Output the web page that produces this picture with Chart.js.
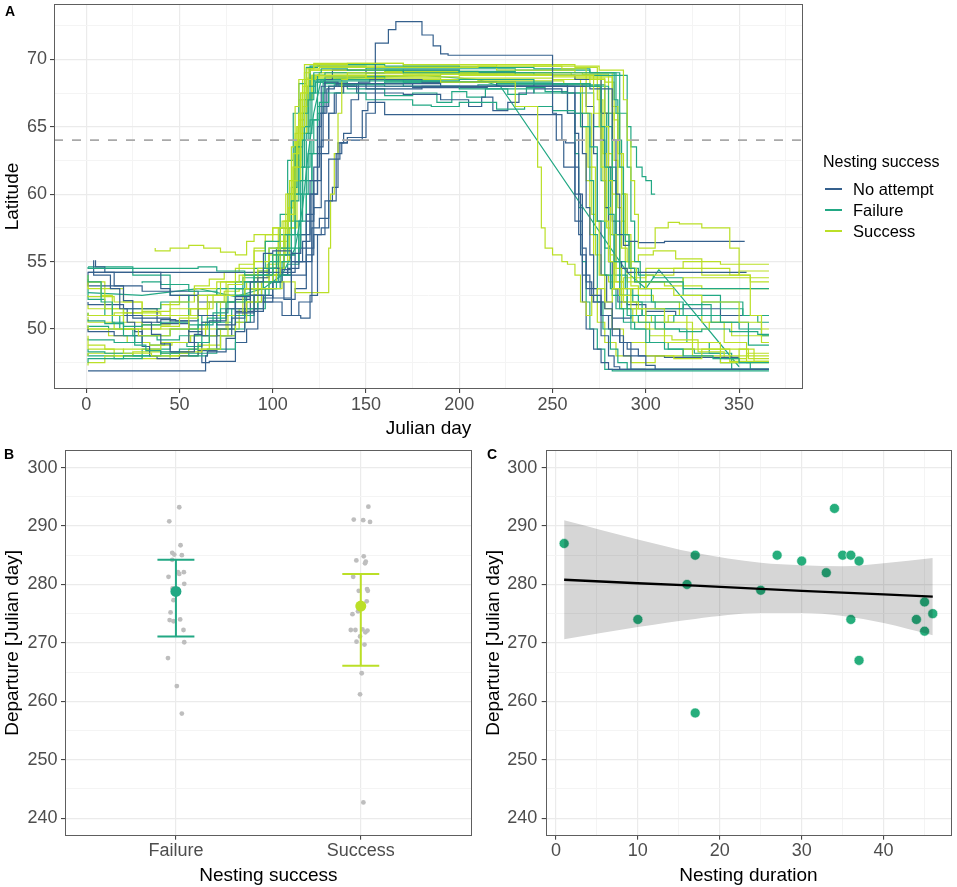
<!DOCTYPE html>
<html>
<head>
<meta charset="utf-8">
<script src="https://cdn.jsdelivr.net/npm/chart.js@4.4.1/dist/chart.umd.min.js"></script>
<style>
  body { margin: 0; background: #fff; }
  #wrap { position: relative; width: 957px; height: 887px; font-family: "Liberation Sans", Arial, sans-serif; }
  canvas { position: absolute; }
  .tag { position: absolute; font-weight: bold; font-size: 14px; line-height: 15px; color: #000; }
  .leg { position: absolute; font-size: 16.5px; line-height: 19px; color: #000; white-space: nowrap; }
  .key { position: absolute; width: 17px; height: 2px; }
</style>
</head>
<body>
<div id="wrap">
  <canvas id="chartA" width="957" height="440" style="left:0;top:0"></canvas>
  <canvas id="chartB" width="480" height="447" style="left:0;top:440px"></canvas>
  <canvas id="chartC" width="477" height="447" style="left:480px;top:440px"></canvas>
  <div class="tag" style="left:5px;top:4px">A</div>
  <div class="tag" style="left:4px;top:447px">B</div>
  <div class="tag" style="left:487px;top:447px">C</div>
  <div id="legend"></div>
</div>
<script>
// ---- data ----
const groupNames = ['No attempt', 'Failure', 'Success'];
const groupColors = ['#35608D', '#22A884', '#BBDF27'];
const thresholdLat = 64;

// tick values
const dayTicks = [0, 25, 50, 75, 100, 125, 150, 175, 200, 225, 250, 275, 300, 325, 350, 375];
const dayMajor = [0, 50, 100, 150, 200, 250, 300, 350];
const latTicks = [47.5, 50, 52.5, 55, 57.5, 60, 62.5, 65, 67.5, 70, 72.5];
const latMajor = [50, 55, 60, 65, 70];
const depTicks = [240, 245, 250, 255, 260, 265, 270, 275, 280, 285, 290, 295, 300];
const depMajor = [240, 250, 260, 270, 280, 290, 300];
const durTicks = [0, 5, 10, 15, 20, 25, 30, 35, 40, 45];
const durMajor = [0, 10, 20, 30, 40];

// panel A: tracks [julian day, latitude]
const na1 = [[5,55.1],[10,54.6],[15,54.2],[20,53.2],[25,52.1],[30,51.0],[35,50.5],[40,49.6],[45,48.9],[50,48.3],[58,48.3],[62,49.6],[66,50.5],[75,50.6],[80,51.5],[88,52.4],[95,53.5],[100,55.6],[110,55.8],[114,51.0],[121,52.0],[125,57.5],[130,58.2],[136,62.6],[140,63.8],[150,64.2],[155,66.0],[162,71.2],[166,72.2],[170,72.8],[180,72.8],[186,71.8],[190,71.0],[194,70.4],[250,70.3],[252,66.0],[256,64.0],[262,62.0],[266,58.0],[270,54.0],[276,52.5],[280,49.5],[283,48.0],[286,47.2],[300,47.0]];
const na2 = [[1,54.2],[40,54.2],[45,53.0],[50,52.5],[60,52.5],[70,51.0],[80,50.3],[90,51.2],[100,52.5],[110,52.3],[118,54.0],[122,55.5],[126,57.0],[130,57.5],[134,59.5],[137,63.0],[140,63.8],[148,64.0],[151,66.2],[160,66.8],[170,65.9],[255,65.9],[257,64.0],[262,63.8],[265,60.0],[268,55.5],[272,53.0],[278,52.0],[282,51.5],[288,49.5],[292,48.0],[295,47.0],[366,47.0]];
const na3 = [[1,46.9],[64,46.9],[65,48.0],[75,48.3],[80,49.3],[85,49.8],[90,50.5],[95,51.5],[100,52.3],[105,53.5],[110,54.4],[115,55.6],[120,57.0],[124,61.0],[126,65.0],[128,68.0],[135,68.3],[240,68.0],[270,68.0],[282,67.8],[284,64.0],[286,60.0],[288,57.0],[291,56.2],[296,56.5],[310,56.4],[330,56.5],[353,56.5]];
const na4 = [[4,55.1],[13,54.0],[18,53.0],[22,51.5],[26,50.5],[30,49.8],[34,48.7],[38,48.0],[50,47.8],[60,48.0],[70,48.4],[78,49.5],[85,50.8],[92,52.5],[98,53.8],[104,54.5],[110,54.0],[116,55.0],[120,56.5],[124,60.0],[127,63.5],[130,66.5],[134,68.0],[150,68.2],[180,67.8],[200,68.0],[262,68.0],[266,66.0],[268,63.0],[270,59.0],[272,55.5],[276,53.0],[280,51.0],[286,50.0],[292,49.0],[300,48.0],[305,47.3],[366,47.0]];
const na5 = [[1,54.0],[20,54.2],[112,54.2],[118,55.0],[122,58.5],[125,62.0],[128,66.0],[132,68.5],[150,69.2],[170,69.0],[200,69.2],[230,69.0],[262,68.8],[276,68.5],[280,66.0],[282,62.0],[284,58.0],[287,55.0],[290,54.5],[295,54.2],[354,54.2]];
const na6 = [[1,50.0],[15,49.8],[30,49.5],[40,50.5],[48,50.7],[55,50.6],[62,49.8],[70,49.5],[80,50.0],[88,51.5],[95,52.5],[100,52.0],[106,53.5],[112,52.2],[118,53.0],[121,55.0],[124,60.0],[126,63.0],[129,66.0],[133,67.8],[145,68.0],[175,68.2],[215,67.9],[268,68.0],[272,66.5],[274,63.0],[276,58.0],[279,54.0],[282,52.0],[286,50.0],[290,49.0],[296,48.5],[310,48.0],[350,47.9]];
const na7 = [[1,53.5],[30,53.2],[60,52.8],[80,52.0],[95,51.3],[105,52.0],[115,51.0],[120,50.8],[124,52.5],[128,57.0],[132,59.5],[135,60.5],[138,63.8],[142,64.5],[146,67.0],[152,68.3],[180,68.5],[220,68.3],[258,68.0],[262,66.0],[264,62.0],[266,57.0],[268,52.0],[272,50.0],[276,48.5],[280,47.5],[290,47.0],[366,47.0]];
const na8 = [[1,52.0],[20,51.8],[38,51.5],[40,50.5],[55,50.4],[62,49.0],[66,47.5],[80,47.6],[86,49.0],[92,50.0],[96,52.0],[100,53.0],[106,54.5],[112,55.5],[118,55.0],[122,56.0],[126,59.0],[130,63.0],[133,66.0],[137,67.5],[145,68.0],[170,67.5],[190,67.4],[205,67.0],[212,66.5],[218,67.2],[226,66.2],[232,66.8],[240,67.5],[255,67.8],[262,67.5],[264,64.5],[266,60.0],[268,56.0],[271,53.5],[276,52.0],[282,51.0],[292,50.8],[300,51.0],[316,51.3],[330,51.0],[366,51.0]];
const na9 = [[1,51.0],[25,51.0],[45,50.8],[60,50.6],[70,51.0],[80,51.0],[88,52.2],[95,53.0],[102,53.5],[108,54.0],[114,54.5],[118,56.0],[122,58.0],[126,61.0],[130,64.0],[134,66.0],[138,67.5],[144,68.1],[190,68.2],[240,68.0],[270,68.2],[276,68.0],[278,64.0],[280,59.0],[282,55.0],[285,53.0],[290,52.0],[300,51.8],[320,51.5],[340,51.5],[360,51.0],[366,51.0]];

const fa1 = [[1,54.6],[60,54.5],[70,54.6],[85,54.3],[95,54.0],[100,54.0],[108,55.5],[112,57.0],[116,60.0],[119,64.0],[122,67.0],[126,69.0],[140,69.3],[170,69.2],[200,69.0],[230,69.1],[284,69.0],[286,66.0],[288,62.0],[291,57.0],[294,54.5],[300,53.5],[320,53.5],[340,53.0],[366,53.0]];
const fa2 = [[1,54.0],[8,53.5],[14,52.0],[20,50.5],[26,49.5],[32,48.8],[40,48.4],[50,48.2],[60,48.5],[66,49.0],[72,50.5],[80,51.5],[88,52.5],[95,53.5],[102,54.5],[110,56.0],[114,59.5],[117,62.0],[120,65.0],[123,67.5],[127,68.3],[190,68.4],[230,68.3],[268,68.2],[276,68.0],[278,65.0],[280,62.0],[283,58.5],[286,55.0],[290,52.5],[296,51.0],[305,50.5],[318,50.0],[330,49.8],[345,50.0],[360,49.8],[366,49.6]];
const fa3 = [[1,50.7],[10,50.6],[20,50.4],[30,50.2],[40,50.3],[55,50.5],[65,50.3],[75,50.8],[85,52.0],[95,53.0],[103,53.5],[110,54.0],[115,56.0],[119,60.0],[122,63.0],[125,65.5],[130,66.8],[150,67.5],[175,67.0],[185,66.6],[200,66.5],[220,66.8],[235,66.3],[250,66.5],[262,66.2],[270,66.0],[274,63.5],[278,58.0],[282,54.0],[286,52.5],[292,51.5],[300,50.0],[310,49.0],[320,48.5],[336,48.0],[350,47.8],[366,47.5]];
const fa5 = [[1,47.5],[20,47.8],[40,48.0],[55,48.3],[65,48.0],[72,48.5],[80,49.5],[90,51.0],[98,52.5],[105,53.5],[110,55.0],[115,57.0],[118,61.0],[121,64.5],[124,67.5],[128,68.8],[160,69.0],[200,69.2],[240,69.0],[290,68.8],[292,65.0],[295,63.5],[298,62.0],[300,61.3],[303,61.0],[305,60.0]];
const fa6 = [[1,49.3],[15,49.2],[30,49.0],[45,49.5],[60,50.0],[70,51.0],[80,52.0],[90,53.0],[98,54.0],[104,55.0],[108,57.0],[112,60.0],[116,63.5],[119,66.0],[122,68.0],[128,68.5],[160,68.7],[200,68.4],[240,68.5],[270,68.2],[280,68.0],[282,65.0],[284,61.0],[286,57.0],[290,54.0],[296,52.5],[305,52.0],[320,51.5],[335,51.8],[350,50.5],[362,50.0],[366,49.5]];
const fa7 = [[1,48.5],[10,48.3],[25,48.2],[45,48.0],[70,48.2],[80,48.5],[85,50.0],[92,51.5],[100,53.0],[106,54.5],[112,55.5],[116,58.0],[120,62.0],[124,65.5],[128,67.5],[133,68.0],[160,68.1],[200,68.0],[240,67.8],[265,67.5],[270,65.0],[272,61.0],[274,57.0],[277,52.0],[281,50.0],[285,48.5],[290,47.5],[296,47.0],[366,47.0]];
const fa8 = [[30,53.4],[40,53.5],[55,53.3],[70,52.8],[80,52.5],[90,53.5],[96,54.5],[104,56.5],[110,57.5],[114,60.0],[117,64.0],[120,67.0],[125,69.5],[160,69.6],[200,69.5],[240,69.4],[270,69.3],[286,69.0],[290,66.0],[292,62.0],[294,58.0],[297,55.0],[303,53.0],[320,52.0],[340,51.0],[355,50.5],[366,48.8]];
const fa9 = [[1,54.6],[25,54.6],[45,54.0],[55,52.5],[62,51.0],[70,50.5],[80,50.0],[88,50.5],[96,51.5],[104,53.0],[110,54.0],[114,55.0],[118,58.0],[121,61.0],[124,64.0],[127,66.5],[131,68.2],[160,68.2],[210,68.3],[250,68.3],[278,68.1],[282,66.0],[284,62.0],[286,58.0],[289,55.0],[293,53.0],[298,52.0],[305,51.0],[315,50.5],[330,51.0],[340,52.0],[352,51.5],[366,51.0]];
const fa10 = [[1,51.2],[20,51.0],[40,51.5],[55,52.0],[70,52.5],[85,53.0],[95,53.5],[103,54.0],[108,55.5],[112,58.0],[115,62.0],[118,65.0],[122,67.5],[128,68.4],[170,68.5],[220,68.3],[258,68.2],[262,66.0],[264,63.0],[266,59.0],[268,55.0],[270,52.0],[274,50.0],[278,48.5],[282,47.0],[300,46.9],[345,46.9],[366,46.9]];
const fa11 = [[1,48.2],[15,48.0],[30,47.8],[45,48.5],[58,49.0],[70,49.5],[78,50.5],[86,51.5],[94,52.0],[100,53.5],[106,55.0],[110,57.0],[113,60.5],[116,64.0],[119,66.5],[123,68.0],[140,68.3],[160,67.8],[175,67.3],[188,67.5],[196,66.8],[204,67.6],[214,67.2],[226,67.8],[236,67.4],[246,67.9],[258,67.6],[272,67.5],[276,65.0],[278,61.0],[281,56.0],[284,53.0],[288,51.5],[294,50.5],[302,50.0],[312,49.0],[326,48.5],[340,48.2],[356,47.5],[366,47.0]];
const fa12 = [[1,50.0],[12,50.2],[25,50.0],[38,49.5],[50,49.2],[60,49.5],[68,50.3],[76,51.2],[84,52.5],[92,53.8],[98,54.3],[104,56.0],[108,58.5],[111,62.5],[114,66.0],[118,68.2],[124,69.4],[150,69.5],[190,69.3],[230,69.3],[270,69.2],[283,69.0],[285,67.0],[287,64.0],[289,60.0],[292,56.5],[296,54.5],[304,54.0],[320,53.8],[340,52.5],[352,52.0],[360,51.0],[366,50.5]];
const fa13 = [[1,53.0],[10,52.2],[18,51.0],[26,50.0],[34,49.0],[42,48.8],[54,49.0],[62,48.7],[70,49.5],[78,50.0],[86,51.0],[94,52.5],[102,53.0],[108,54.0],[114,54.8],[118,57.0],[121,60.0],[124,63.0],[127,66.0],[130,67.5],[136,68.0],[170,68.2],[210,68.0],[250,68.1],[276,68.0],[279,66.0],[281,62.0],[283,57.0],[286,54.0],[290,52.5],[298,51.5],[310,51.0],[322,50.0],[334,49.0],[346,48.2],[356,47.0],[366,47.0]];
// track with long gaps, drawn with straight segments
const fa4 = [[1,52.7],[30,52.5],[60,53.0],[80,52.4],[95,53.0],[105,54.0],[112,56.0],[116,59.0],[119,63.0],[122,66.0],[126,68.5],[140,68.6],[180,68.8],[210,68.5],[222,68.0],[290,54.2],[300,53.0],[307,54.4],[350,47.2]];

const su1 = [[37,56.0],[45,55.8],[55,56.0],[63,56.2],[72,56.0],[80,55.7],[86,55.5],[90,56.5],[96,57.0],[103,57.0],[108,57.5],[112,58.5],[115,62.0],[117,65.0],[119,67.5],[122,69.3],[140,69.6],[170,69.7],[240,69.6],[275,69.5],[288,69.2],[290,67.0],[292,64.0],[294,61.0],[296,58.5],[298,56.0],[305,56.0],[312,57.5],[318,57.9],[330,57.8],[345,57.5],[350,56.0],[356,54.0],[362,51.0],[366,50.0]];
const su2 = [[1,51.2],[15,51.0],[30,51.2],[45,51.3],[60,51.5],[72,52.5],[82,53.5],[90,54.0],[98,55.0],[104,56.0],[108,57.5],[111,60.0],[113,63.0],[115,65.0],[118,67.5],[122,68.5],[150,68.8],[190,68.6],[230,68.3],[242,66.5],[244,62.0],[246,57.5],[250,56.0],[255,55.5],[258,55.0],[262,54.8],[265,54.0],[268,52.0],[271,51.0],[274,52.5],[278,53.0],[282,52.0],[286,53.0],[292,52.5],[300,53.0],[320,53.5],[340,53.8],[366,53.8]];
const su3 = [[1,54.0],[8,53.5],[14,52.5],[20,51.0],[28,50.0],[35,49.5],[45,49.5],[55,50.0],[65,51.0],[75,52.0],[85,52.5],[95,53.0],[105,53.0],[112,53.5],[118,52.7],[130,52.7],[131,56.0],[133,60.0],[135,63.0],[137,66.0],[140,68.5],[170,69.0],[210,69.0],[250,68.8],[272,68.8],[276,66.0],[278,62.0],[280,58.0],[283,55.0],[288,53.0],[296,52.0],[310,51.5],[325,50.5],[340,49.0],[355,48.5],[366,48.0]];
const su4 = [[1,49.5],[10,48.8],[20,48.5],[35,48.2],[50,48.0],[62,48.3],[72,48.5],[80,49.5],[86,50.5],[92,52.0],[98,53.5],[104,54.0],[108,56.0],[111,59.0],[113,62.0],[115,65.0],[117,67.5],[120,69.0],[160,69.2],[200,69.0],[250,68.9],[282,68.7],[286,66.0],[288,63.0],[290,60.0],[292,57.0],[295,54.5],[300,53.5],[315,53.0],[330,52.5],[350,52.0],[362,50.5],[366,49.0]];
const su5 = [[1,53.7],[10,53.0],[20,51.5],[30,50.5],[40,50.0],[50,50.2],[60,50.8],[68,51.5],[76,52.5],[84,53.3],[92,54.0],[100,54.5],[106,55.5],[110,58.0],[113,61.0],[116,64.0],[119,66.5],[123,68.5],[150,68.7],[190,68.8],[230,68.9],[270,68.8],[278,68.5],[280,65.0],[282,61.0],[284,57.0],[287,54.5],[292,53.0],[300,51.5],[310,50.0],[325,49.0],[340,48.0],[350,47.5],[358,48.5],[366,47.6]];
const su6 = [[1,47.3],[10,47.5],[25,48.0],[40,48.3],[55,48.2],[66,48.5],[76,49.5],[84,51.0],[92,52.5],[100,53.5],[106,54.5],[110,57.0],[112,60.0],[114,63.0],[116,66.0],[118,68.0],[122,69.3],[160,69.5],[210,69.4],[255,69.5],[268,69.3],[271,66.0],[273,62.0],[275,58.0],[278,54.0],[282,51.5],[288,50.0],[300,49.0],[315,48.0],[330,47.8],[345,48.5],[366,47.6]];
const su7 = [[1,49.9],[60,50.0],[75,50.0],[85,51.0],[94,52.0],[102,53.5],[108,55.0],[112,57.5],[115,61.0],[118,64.5],[121,67.0],[125,68.8],[160,69.0],[210,69.1],[260,69.0],[276,68.8],[280,66.0],[282,63.0],[284,60.0],[286,57.0],[290,54.5],[296,53.5],[310,53.5],[330,53.2],[366,53.0]];
const su8 = [[1,52.5],[15,52.4],[30,52.0],[45,51.0],[58,52.0],[70,53.0],[80,53.5],[90,54.5],[96,55.8],[100,57.0],[108,57.5],[112,60.0],[115,64.0],[118,67.0],[122,68.6],[150,68.8],[200,69.0],[250,68.8],[265,68.5],[268,65.0],[270,61.0],[272,57.0],[274,53.0],[278,50.5],[284,49.0],[292,48.0],[305,47.5],[320,48.0],[340,48.5],[355,48.0],[366,47.8]];
const su9 = [[1,48.0],[20,48.2],[40,48.5],[55,49.0],[65,50.0],[75,51.0],[85,52.0],[95,53.0],[102,54.0],[107,55.5],[111,58.0],[114,62.0],[117,66.0],[120,68.0],[125,69.3],[170,69.4],[220,69.4],[262,69.2],[282,69.0],[285,66.5],[287,63.0],[289,60.0],[291,57.0],[294,54.5],[300,53.5],[315,54.0],[330,54.5],[350,54.0],[366,54.3]];
const su10 = [[1,50.9],[15,50.5],[30,50.0],[45,50.3],[55,51.0],[65,51.5],[75,52.5],[85,53.5],[95,54.0],[103,54.5],[108,56.0],[112,59.0],[115,62.5],[118,66.0],[121,68.5],[150,68.8],[200,68.7],[250,68.6],[270,68.5],[275,68.0],[277,65.0],[279,61.0],[281,57.5],[284,55.0],[288,53.5],[295,52.0],[303,51.0],[312,50.5],[322,51.0],[334,50.0],[346,50.5],[358,49.5],[366,49.5]];
const su11 = [[1,50.3],[12,50.0],[22,49.5],[34,49.0],[46,48.8],[56,49.0],[64,49.5],[72,50.5],[80,52.0],[86,53.0],[92,53.5],[98,54.3],[103,55.5],[107,57.0],[110,60.0],[112,63.5],[114,66.5],[117,68.5],[122,69.6],[170,69.7],[220,69.5],[262,69.6],[274,69.4],[277,67.0],[279,63.0],[281,59.0],[283,55.5],[287,53.0],[293,51.5],[302,50.5],[314,49.5],[328,49.2],[342,48.3],[354,47.8],[366,48.2]];
const su12 = [[1,53.0],[10,53.5],[20,53.0],[30,52.0],[40,51.5],[50,51.8],[58,52.5],[66,53.2],[74,53.7],[82,54.2],[90,54.8],[96,56.0],[100,56.5],[105,57.5],[109,58.0],[112,61.0],[114,64.5],[116,67.0],[120,68.5],[160,68.6],[210,68.5],[256,68.4],[266,68.2],[269,66.0],[271,62.0],[273,58.5],[276,55.5],[280,54.0],[288,53.5],[300,53.8],[320,54.5],[340,55.0],[356,54.8],[366,54.8]];
const su13 = [[1,48.8],[15,48.5],[30,48.0],[45,47.8],[60,48.0],[72,48.8],[82,50.0],[90,51.5],[98,53.0],[104,54.0],[109,55.0],[113,57.5],[116,61.0],[119,64.5],[121,67.0],[125,68.7],[170,69.0],[220,68.9],[262,68.8],[278,68.6],[283,68.3],[285,65.5],[287,62.0],[289,58.0],[292,55.0],[296,53.2],[304,52.5],[318,52.0],[330,51.0],[342,50.5],[354,49.0],[366,47.5]];
const su14 = [[1,51.8],[20,51.5],[40,51.2],[56,51.0],[66,51.5],[74,52.0],[82,52.8],[90,53.0],[97,53.8],[103,54.8],[108,56.5],[111,59.0],[114,62.0],[117,65.5],[120,68.0],[126,69.2],[170,69.2],[220,69.0],[266,69.0],[280,68.9],[283,66.0],[285,62.5],[287,59.0],[290,56.0],[296,55.0],[304,55.5],[316,55.8],[330,55.2],[345,54.5],[356,54.0],[366,53.5]];

const noAttemptTracks = [na1, na2, na3, na4, na5, na6, na7, na8, na9];
const failureTracks = [fa1, fa2, fa3, fa5, fa6, fa7, fa8, fa9, fa10, fa11, fa12, fa13];
const failureDirectTracks = [fa4];
const successTracks = [su1, su2, su3, su4, su5, su6, su7, su8, su9, su10, su11, su12, su13, su14];

// panel B: departure day per bird (jittered position) and group summaries
const successCats = ['Failure', 'Success'];
const failureJitter = [1.018,0.964,1.025,0.980,0.991,1.032,0.980,1.011,1.043,1.018,0.960,1.045,0.982,0.987,0.971,1.023,0.966,0.987,1.041,1.045,0.957,1.005,1.032];
const failureDeparture = [293.2,290.8,286.7,285.4,285.1,285.0,284.2,282.1,282.1,281.8,281.3,280.1,279.3,277.3,275.2,274.0,273.9,273.7,272.2,270.1,267.4,262.6,257.9];
const successJitter = [2.041,1.962,2.013,2.050,2.016,1.976,2.027,2.023,1.959,1.989,2.034,2.038,2.032,1.985,1.955,1.946,1.971,2.009,2.025,2.036,1.996,1.977,2.020,2.005,1.996,2.014];
const successDeparture = [293.3,291.1,291.0,290.7,284.8,284.1,283.9,283.6,281.3,278.9,279.2,278.9,277.1,275.4,274.9,272.2,272.2,272.3,271.8,272.1,271.1,270.2,269.7,264.8,261.2,242.7];
const groupMean = [278.8, 276.3];
const groupLow = [271.1, 266.1];
const groupHigh = [284.2, 281.8];

// panel C: nesting duration vs departure, linear fit with CI
const nestDuration = [1,10,16,17,17,25,27,30,33,34,35,36,36,37,37,44,45,45,46];
const nestDeparture = [287,274,280,285,258,279,285,284,282,293,285,285,274,284,267,274,277,272,275];
const fitDuration = [1, 10, 17, 25, 30, 35, 40, 46];
const fitDeparture = [280.8, 280.2, 279.8, 279.25, 278.9, 278.6, 278.3, 277.9];
const fitUpper = [291.0, 287.7, 285.4, 283.7, 283.3, 283.1, 283.6, 284.5];
const fitLower = [270.6, 272.7, 274.1, 275.1, 275.1, 274.6, 273.4, 271.3];

// ---- drawing ----
Chart.defaults.font.family = '"Liberation Sans", Arial, sans-serif';
Chart.defaults.animation = false;
Chart.defaults.events = [];
Chart.defaults.plugins.legend.display = false;
Chart.defaults.plugins.tooltip.enabled = false;

const tickGray = '#4D4D4D';

function axis(opts) {
  const major = opts.major;
  return {
    type: 'linear',
    min: opts.min,
    max: opts.max,
    afterBuildTicks: s => { s.ticks = opts.ticks.map(v => ({ value: v })); },
    afterFit: s => {
      if (opts.width) s.width = opts.width;
      if (opts.height) s.height = opts.height;
      s.paddingTop = 0; s.paddingBottom = 0; s.paddingLeft = 0; s.paddingRight = 0;
    },
    ticks: {
      autoSkip: false, maxRotation: 0,
      color: tickGray, font: { size: 18 }, padding: opts.pad,
      callback: v => {
        if (!major.includes(v)) return '';
        return opts.labels ? opts.labels[major.indexOf(v)] : String(v);
      }
    },
    grid: {
      color: c => major.includes(c.tick.value) ? '#EBEBEB' : '#F4F4F4',
      lineWidth: c => major.includes(c.tick.value) ? 1.2 : 1,
      tickColor: c => major.includes(c.tick.value) ? '#333333' : 'rgba(0,0,0,0)',
      tickLength: 4,
      tickWidth: 1
    },
    border: { display: false },
    title: { display: true, text: opts.title, color: '#000', font: { size: 19 }, padding: opts.titlePad }
  };
}

const framePlugin = {
  id: 'frame',
  afterDraw(chart) {
    const a = chart.chartArea, ctx = chart.ctx;
    ctx.save();
    ctx.strokeStyle = '#5E5E5E';
    ctx.lineWidth = 1;
    ctx.strokeRect(Math.round(a.left) + 0.5, Math.round(a.top) + 0.5, Math.round(a.right - a.left) - 1, Math.round(a.bottom - a.top) - 1);
    ctx.restore();
  }
};

const thresholdPlugin = {
  id: 'threshold',
  afterDatasetsDraw(chart) {
    const a = chart.chartArea, ctx = chart.ctx;
    const y = chart.scales.y.getPixelForValue(thresholdLat);
    ctx.save();
    ctx.strokeStyle = '#A9A9A9';
    ctx.lineWidth = 1.8;
    ctx.setLineDash([9, 9]);
    ctx.beginPath();
    ctx.moveTo(a.left, y);
    ctx.lineTo(a.right, y);
    ctx.stroke();
    ctx.restore();
  }
};

// the confidence band darkens whatever lies under it (like a translucent grey layer)
const bandBlendPlugin = {
  id: 'bandBlend',
  afterDatasetDraw(chart, args) {
    if (args.index === 2) chart.ctx.globalCompositeOperation = 'multiply';
    if (args.index === 1) chart.ctx.globalCompositeOperation = 'source-over';
  }
};

function trackSet(track, color, stepped) {
  return {
    data: track.map(p => ({ x: p[0], y: p[1] })),
    borderColor: color,
    borderWidth: 1.2,
    pointRadius: 0,
    stepped: stepped ? 'after' : false,
    tension: 0,
    fill: false
  };
}

// interleave the groups so no colour sits entirely on top
const trackSets = [];
const nMax = Math.max(noAttemptTracks.length, failureTracks.length, successTracks.length);
for (let i = 0; i < nMax; i++) {
  if (successTracks[i]) trackSets.push(trackSet(successTracks[i], groupColors[2], true));
  if (failureTracks[i]) trackSets.push(trackSet(failureTracks[i], groupColors[1], true));
  if (noAttemptTracks[i]) trackSets.push(trackSet(noAttemptTracks[i], groupColors[0], true));
}
failureDirectTracks.forEach(t => trackSets.push(trackSet(t, groupColors[1], false)));

new Chart(document.getElementById('chartA'), {
  type: 'line',
  data: { datasets: trackSets },
  options: {
    responsive: false,
    layout: { padding: { top: 4, right: 154, left: 0, bottom: 0 } },
    scales: {
      x: axis({ min: -17.25, max: 384.25, ticks: dayTicks, major: dayMajor, height: 51, pad: 1, title: 'Julian day', titlePad: { top: 2, bottom: 0 } }),
      y: axis({ min: 45.55, max: 74.1, ticks: latTicks, major: latMajor, width: 54, pad: 3, title: 'Latitude', titlePad: { top: 1, bottom: 0 } })
    }
  },
  plugins: [thresholdPlugin, framePlugin]
});

// legend for panel A
const legend = document.getElementById('legend');
legend.innerHTML = '<div class="leg" style="left:823px;top:152px;font-size:16px">Nesting success</div>' +
  groupNames.map((n, i) =>
    `<div class="key" style="left:825px;top:${188 + i * 21}px;background:${groupColors[i]}"></div>` +
    `<div class="leg" style="left:853px;top:${179.5 + i * 21}px">${n}</div>`).join('');

// panel B
const capHalf = 0.1;
function errorBar(i) {
  const xc = i + 1;
  return [
    { x: xc - capHalf, y: groupHigh[i] }, { x: xc + capHalf, y: groupHigh[i] }, { x: xc, y: null },
    { x: xc, y: groupHigh[i] }, { x: xc, y: groupLow[i] }, { x: xc, y: null },
    { x: xc - capHalf, y: groupLow[i] }, { x: xc + capHalf, y: groupLow[i] }
  ];
}
const pointsB = failureJitter.map((x, i) => ({ x, y: failureDeparture[i] }))
  .concat(successJitter.map((x, i) => ({ x, y: successDeparture[i] })));

new Chart(document.getElementById('chartB'), {
  type: 'line',
  data: {
    datasets: [
      { data: groupMean.map((m, i) => ({ x: i + 1, y: m })), showLine: false, pointRadius: 5.5,
        pointBackgroundColor: [groupColors[1], groupColors[2]], pointBorderWidth: 0 },
      { data: errorBar(0), borderColor: groupColors[1], borderWidth: 2, pointRadius: 0, spanGaps: false },
      { data: errorBar(1), borderColor: groupColors[2], borderWidth: 2, pointRadius: 0, spanGaps: false },
      { data: pointsB, showLine: false, pointRadius: 2.4, pointBackgroundColor: '#BEBEBE', pointBorderWidth: 0 }
    ]
  },
  options: {
    responsive: false,
    layout: { padding: { top: 10, right: 8.3, left: 0, bottom: 0 } },
    scales: {
      x: axis({ min: 0.4, max: 2.6, ticks: [1, 2], major: [1, 2], labels: successCats, height: 51.3, pad: 1, title: 'Nesting success', titlePad: { top: 3, bottom: 0 } }),
      y: axis({ min: 237, max: 303, ticks: depTicks, major: depMajor, width: 65, pad: 3.5, title: 'Departure [Julian day]', titlePad: { top: 1, bottom: 0 } })
    }
  },
  plugins: [framePlugin]
});

// panel C
new Chart(document.getElementById('chartC'), {
  type: 'line',
  data: {
    datasets: [
      { data: fitDuration.map((d, i) => ({ x: d, y: fitDeparture[i] })), borderColor: '#000', borderWidth: 2.3, pointRadius: 0 },
      { data: fitDuration.map((d, i) => ({ x: d, y: fitUpper[i] })), borderWidth: 0, pointRadius: 0,
        cubicInterpolationMode: 'monotone', fill: '+1', backgroundColor: '#D6D6D6' },
      { data: fitDuration.map((d, i) => ({ x: d, y: fitLower[i] })), borderWidth: 0, pointRadius: 0,
        cubicInterpolationMode: 'monotone', fill: false },
      { data: nestDuration.map((d, i) => ({ x: d, y: nestDeparture[i] })), showLine: false, pointRadius: 5,
        pointBackgroundColor: '#26AE7C', pointBorderColor: 'rgba(255,255,255,0.75)', pointBorderWidth: 0.8 }
    ]
  },
  options: {
    responsive: false,
    layout: { padding: { top: 10, right: 4.7, left: 0, bottom: 0 } },
    scales: {
      x: axis({ min: -1.25, max: 48.25, ticks: durTicks, major: durMajor, height: 51.3, pad: 1, title: 'Nesting duration', titlePad: { top: 3, bottom: 0 } }),
      y: axis({ min: 237, max: 303, ticks: depTicks, major: depMajor, width: 65.7, pad: 4.4, title: 'Departure [Julian day]', titlePad: { top: 2.5, bottom: 0 } })
    }
  },
  plugins: [bandBlendPlugin, framePlugin]
});
</script>
</body>
</html>
